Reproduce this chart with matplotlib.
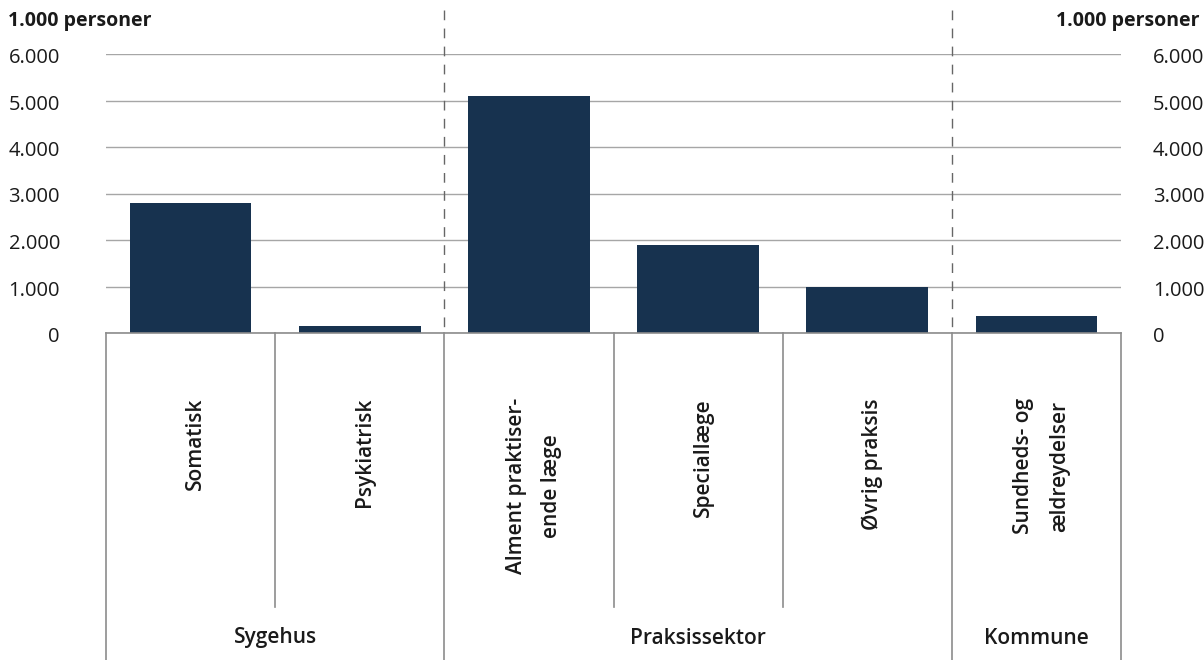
import matplotlib.pyplot as plt
from matplotlib.transforms import blended_transform_factory, ScaledTranslation

plt.rcParams['font.family'] = ['Open Sans', 'DejaVu Sans']

categories = ["Somatisk", "Psykiatrisk", "Alment praktiser-\nende læge",
              "Speciallæge", "Øvrig praksis", "Sundheds- og\nældreydelser"]
values = [2800, 145, 5100, 1890, 985, 370]
groups = ["Sygehus", "Praksissektor", "Kommune"]
group_spans = [(0, 1), (2, 4), (5, 5)]
yticks = [0, 1000, 2000, 3000, 4000, 5000, 6000]
ytick_labels = ["0", "1.000", "2.000", "3.000", "4.000", "5.000", "6.000"]

W, H = 1204, 660
bar_color = "#17324f"
text_color = "#1a1a1a"
line_color = "#8c8c8c"


def fy(px):
    return 1 - px / H


fig = plt.figure(figsize=(W / 100, H / 100), dpi=100)
ax = fig.add_axes([106 / W, fy(333), (1121 - 106) / W, (333 - 54) / H])

x = range(len(categories))
ax.bar(x, values, width=0.72, color=bar_color, zorder=3)

ax.set_xlim(-0.5, len(categories) - 0.5)
ax.set_ylim(0, 6000)
ax.set_yticks(yticks)
ax.set_yticklabels([])
ax.tick_params(axis="y", length=0)
ax.set_xticks([])
ax.grid(axis="y", color="#a6a6a6", linewidth=1, zorder=1)
for s in ["top", "left", "right"]:
    ax.spines[s].set_visible(False)
ax.spines["bottom"].set_color(line_color)
ax.spines["bottom"].set_linewidth(1.2)
ax.spines["bottom"].set_zorder(4)

# y labels on both sides
ytrans = blended_transform_factory(ax.transAxes, ax.transData)
left_off = ScaledTranslation(-46 / 100, -4 / 100, fig.dpi_scale_trans)
right_off = ScaledTranslation(32 / 100, -4 / 100, fig.dpi_scale_trans)
for v, lab in zip(yticks, ytick_labels):
    ax.text(0, v, lab, transform=ytrans + left_off, ha="right", va="center",
            fontsize=14.5, color=text_color)
    ax.text(1, v, lab, transform=ytrans + right_off, ha="left", va="center",
            fontsize=14.5, color=text_color)

trans = blended_transform_factory(ax.transData, fig.transFigure)

# unit labels
fig.text(8 / W, fy(21), "1.000 personer", fontsize=14, fontweight="bold",
         color=text_color, va="center", ha="left")
fig.text(1200 / W, fy(21), "1.000 personer", fontsize=14, fontweight="bold",
         color=text_color, va="center", ha="right")

# dashed separators between groups
for g0, g1 in group_spans[1:]:
    ax.plot([g0 - 0.5, g0 - 0.5], [fy(10), fy(333)], transform=trans,
            color="#666666", linewidth=1, linestyle=(0, (7, 6)), clip_on=False, zorder=2)

# category boundary lines below the axis
for i in range(len(categories) + 1):
    edge = i - 0.5
    is_group_edge = any(edge == g0 - 0.5 for g0, _ in group_spans) or i == len(categories)
    bottom = H if is_group_edge else 607
    ax.plot([edge, edge], [fy(333), fy(bottom)], transform=trans,
            color=line_color, linewidth=1.2, clip_on=False)

# category labels
for i, name in enumerate(categories):
    ax.text(i + 0.03, fy(398), name, transform=trans, rotation=90,
            ha="center", va="top", multialignment="center",
            fontsize=15, fontweight="semibold", color=text_color, linespacing=1.9)

# group labels
for name, (g0, g1) in zip(groups, group_spans):
    ax.text((g0 + g1) / 2, fy(638), name, transform=trans, ha="center",
            va="center", fontsize=15, fontweight="semibold", color=text_color)

fig.savefig("out.png", dpi=100)
